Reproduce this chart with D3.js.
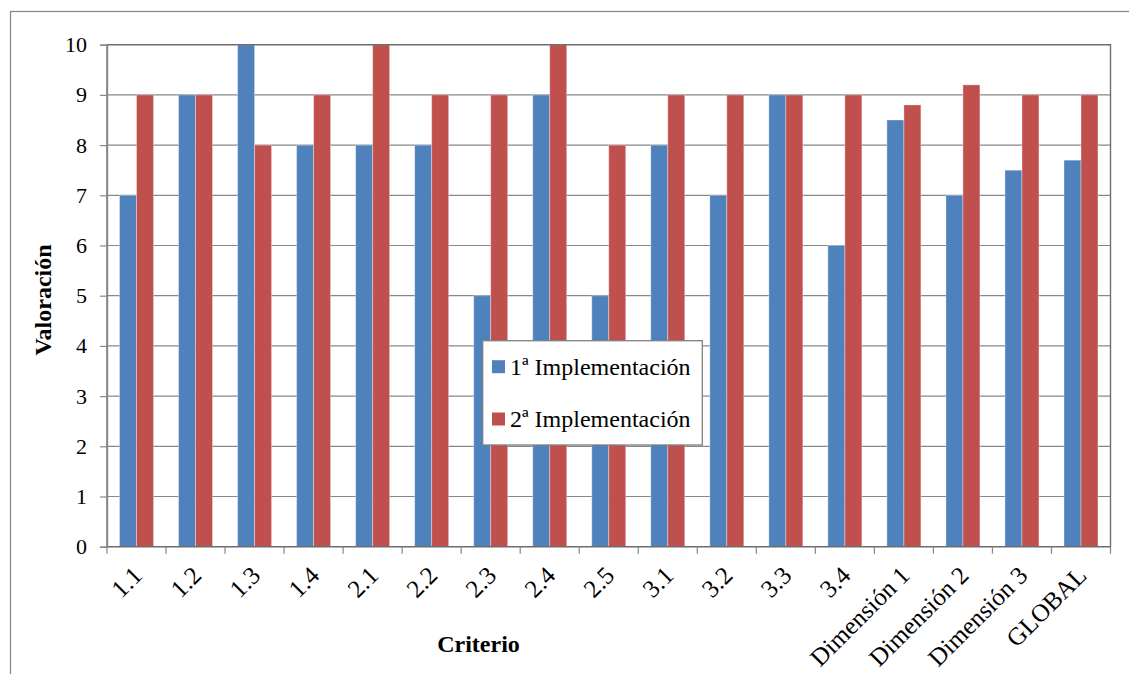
<!DOCTYPE html>
<html><head><meta charset="utf-8">
<script src="https://cdn.jsdelivr.net/npm/d3@7"></script>
<style>body{margin:0;background:#fff}svg{display:block;font-family:"Liberation Serif","Times New Roman",serif}svg text{font-family:"Liberation Serif","Times New Roman",serif}</style>
</head><body><svg id="c" width="1129" height="674"></svg>
<script>
const categories = ["1.1","1.2","1.3","1.4","2.1","2.2","2.3","2.4","2.5","3.1","3.2","3.3","3.4","Dimensión 1","Dimensión 2","Dimensión 3","GLOBAL"];
const serie1 = [7,9,10,8,8,8,5,9,5,8,7,9,6,8.5,7,7.5,7.7];
const serie2 = [9,9,8,9,10,9,9,10,8,9,9,9,9,8.8,9.2,9,9];
const seriesNames = ["1ª Implementación","2ª Implementación"];
const colors = ["#4F81BD","#C0504D"];
const yTicks = [0,1,2,3,4,5,6,7,8,9,10];

const svg = d3.select("#c");
const L=107, R=1110.5, T=44.7, B=546.7;

// outer frame
svg.append("rect").attr("x",10.5).attr("y",11.5).attr("width",1200).attr("height",800)
  .attr("fill","none").attr("stroke","#8c8c8c").attr("stroke-width",1.3);

const x = d3.scaleBand().domain(categories).range([L,R]).paddingInner(0).paddingOuter(0);
const y = d3.scaleLinear().domain([0,10]).range([B,T]);
const inner = d3.scaleBand().domain([0,1]).range([0,x.bandwidth()]).paddingInner(0).paddingOuter(0.737);

// gridlines
svg.append("g").selectAll("line").data(yTicks).join("line")
  .attr("x1",L).attr("x2",R).attr("y1",d=>y(d)).attr("y2",d=>y(d))
  .attr("stroke","#878787").attr("stroke-width",1.2);

// bars
const data = categories.map((c,i)=>({c, v:[serie1[i],serie2[i]]}));
const g = svg.append("g");
data.forEach(d=>{
  d.v.forEach((v,k)=>{
    g.append("rect").attr("x",x(d.c)+inner(k)).attr("y",y(v))
      .attr("width",inner.bandwidth()).attr("height",y(0)-y(v))
      .attr("fill",colors[k]).attr("stroke","rgba(255,255,255,0.35)").attr("stroke-width",1);
  });
});

// plot border
svg.append("rect").attr("x",L).attr("y",T).attr("width",R-L).attr("height",B-T)
  .attr("fill","none").attr("stroke","#6e6e6e").attr("stroke-width",1.4);

// y axis
const ya = svg.append("g").attr("transform",`translate(${L},0)`)
  .call(d3.axisLeft(y).tickValues(yTicks).tickSize(7).tickPadding(13).tickFormat(d3.format("d")));
ya.attr("font-family","Liberation Serif").attr("font-size",22);
ya.select(".domain").attr("stroke","#878787").attr("stroke-width",1.4);
ya.selectAll(".tick line").attr("stroke","#878787").attr("stroke-width",1.2);
ya.selectAll("text").attr("font-size",22).attr("font-family","Liberation Serif").style("font-family","'Liberation Serif', serif").attr("fill","#000");

// x axis ticks at boundaries
const bounds = categories.map(c=>x(c)).concat([R]);
svg.append("g").selectAll("line").data(bounds).join("line")
  .attr("x1",d=>d).attr("x2",d=>d).attr("y1",B).attr("y2",B+7)
  .attr("stroke","#878787").attr("stroke-width",1.2);

// x labels
svg.append("g").selectAll("text").data(categories).join("text")
  .attr("transform",d=>`translate(${x(d)+x.bandwidth()/2+1},${B+24}) rotate(-45)`)
  .attr("text-anchor","end").attr("dy","0.35em")
  .attr("font-size",25).attr("fill","#000").text(d=>d);

// axis titles
svg.append("text").attr("transform",`translate(51,300) rotate(-90)`).attr("text-anchor","middle")
  .attr("font-size",24).attr("font-weight","bold").text("Valoración");
svg.append("text").attr("x",478.5).attr("y",652).attr("text-anchor","middle")
  .attr("font-size",24).attr("font-weight","bold").text("Criterio");

// legend
const lg = svg.append("g");
lg.append("rect").attr("x",482.7).attr("y",340.7).attr("width",219.6).attr("height",104.3)
  .attr("fill","#fff").attr("stroke","#7f7f7f").attr("stroke-width",1.3);
seriesNames.forEach((n,k)=>{
  const cy = [366.7,419][k];
  lg.append("rect").attr("x",492).attr("y",cy-6.5).attr("width",13).attr("height",13).attr("fill",colors[k]);
  lg.append("text").attr("x",510).attr("y",cy).attr("dy","0.35em").attr("font-size",24).text(n);
});
</script></body></html>
